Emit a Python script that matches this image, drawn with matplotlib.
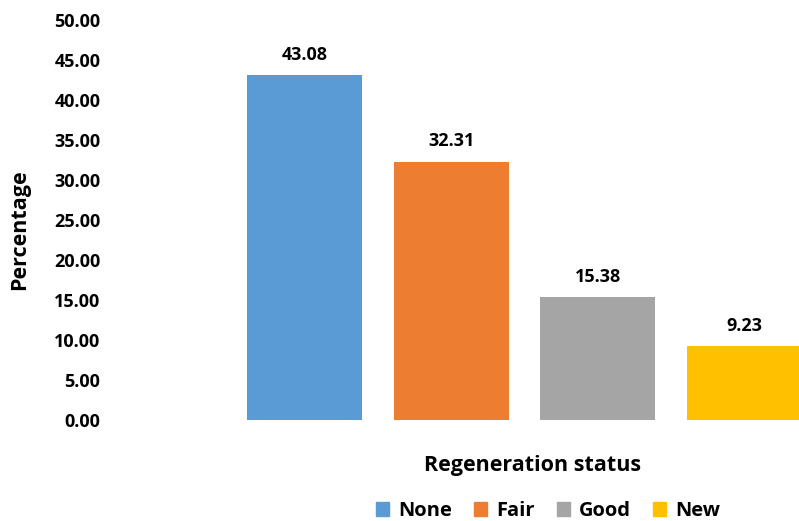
import matplotlib.pyplot as plt
from matplotlib.patches import Patch

categories = ["None", "Fair", "Good", "New"]
values = [43.08, 32.31, 15.38, 9.23]
colors = ["#5B9BD5", "#ED7D31", "#A5A5A5", "#FFC000"]
y_ticks = [0, 5, 10, 15, 20, 25, 30, 35, 40, 45, 50]

plt.rcParams["font.family"] = ["Open Sans", "DejaVu Sans"]
plt.rcParams["font.weight"] = "bold"

fig = plt.figure(figsize=(7.99, 5.21), dpi=100)
W, H = 799, 521
ax = fig.add_axes([110 / W, 101 / H, (799 - 110) / W, 400 / H])

x = list(range(len(categories)))
bars = ax.bar(x, values, width=0.785, color=colors)
for xi, v in zip(x, values):
    ax.annotate("%.2f" % v, (xi, v), xytext=(0, 8), textcoords="offset points",
                ha="center", va="bottom", fontsize=13, fontweight="bold")

ax.set_xlim(-1.33, 3.375)
ax.set_ylim(0, 50)
ax.set_yticks(y_ticks)
ax.set_yticklabels(["%.2f" % t for t in y_ticks], fontsize=13, fontweight="bold")
ax.set_xticks([])
ax.tick_params(axis="y", length=0, pad=7)
for s in ax.spines.values():
    s.set_visible(False)

fig.text(20 / W, 1 - 230 / H, "Percentage", rotation=90, ha="center", va="center",
         fontsize=15.5, fontweight="bold")
fig.text(533 / W, 1 - 465 / H, "Regeneration status", ha="center", va="center",
         fontsize=15.5, fontweight="bold")

handles = [Patch(color=c, label=l) for c, l in zip(colors, categories)]
fig.legend(handles=handles, loc="center", bbox_to_anchor=(548 / W, 1 - 511 / H),
           ncol=4, frameon=False, fontsize=14.5, handlelength=0.65, handleheight=0.65,
           handletextpad=0.45, columnspacing=1.1)

fig.savefig("out.png", dpi=100)
